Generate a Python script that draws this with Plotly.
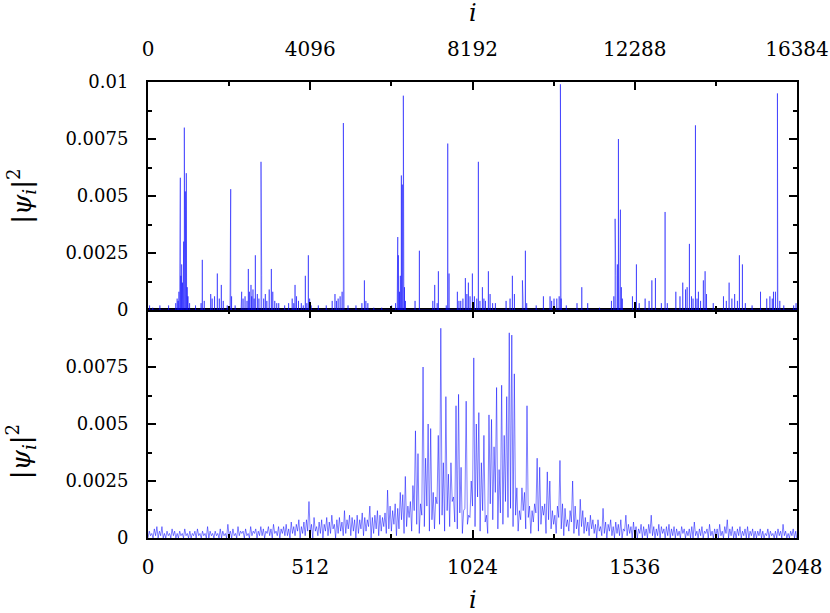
import plotly.graph_objects as go

# ---------------- data (values in units of 1e-4) ----------------
UNIT = 1e-4

# top panel: N = 16384, sparse spikes (index, height)
top_idx = [40, 120, 300, 520, 700, 736, 760, 780, 800, 816, 830, 850, 870, 880, 890, 900, 917, 925, 930, 942,
           950, 955, 967, 975, 990, 1000, 1010, 1050, 1200, 1340, 1371, 1420, 1583, 1620, 1680, 1750, 1800, 1851,
           1900, 2000, 2070, 2088, 2110, 2200, 2350, 2365, 2400, 2450, 2500, 2533, 2560, 2600, 2620, 2650, 2680,
           2710, 2760, 2800, 2853, 2870, 2920, 2962, 3000, 3060, 3114, 3150, 3200, 3250, 3300, 3450, 3550, 3640,
           3680, 3712, 3750, 3800, 3870, 3920, 3972, 4010, 4048, 4080, 4120, 4300, 4500, 4650, 4720, 4760, 4800,
           4850, 4900, 4932, 4950, 5050, 5250, 5400, 5463, 5500, 5550, 5700, 5900, 6150, 6250, 6290, 6305, 6320,
           6350, 6370, 6396, 6420, 6446, 6460, 6475, 6500, 6742, 6851, 7190, 7238, 7300, 7331, 7530, 7567, 7600,
           7810, 7850, 7895, 7950, 8012, 8050, 8088, 8130, 8189, 8240, 8300, 8340, 8380, 8442, 8480, 8520, 8593,
           8636, 8700, 8770, 9040, 9140, 9199, 9250, 9452, 9470, 9527, 9560, 9800, 9982, 10150, 10190, 10250,
           10320, 10380, 10411, 10430, 10560, 10830, 10951, 11100, 11400, 11700, 11760, 11792, 11810, 11850,
           11876, 11910, 11926, 11950, 11975, 12230, 12330, 12400, 12550, 12650, 12720, 12810, 12960, 13054,
           13110, 13325, 13430, 13500, 13570, 13610, 13668, 13720, 13760, 13820, 13860, 13895, 13950, 14020,
           14064, 14100, 14270, 14528, 14600, 14670, 14740, 14810, 14880, 14930, 15006, 15080, 15250, 15463,
           15620, 15700, 15760, 15790, 15840, 15890, 15900, 15950, 16050, 16300, 16360]
top_val = [2, 1, 2, 2, 3, 5, 4, 8, 12, 58, 15, 20, 12, 10, 9, 30, 80, 18, 25, 52,
           11, 15, 60, 9, 10, 6, 6, 3, 2, 3, 22, 4, 7, 5, 6, 16, 5, 11,
           4, 2, 5, 53, 6, 2, 4, 8, 5, 6, 4, 18, 8, 11, 6, 9, 5,
           24, 7, 5, 65, 15, 5, 7, 4, 9, 18, 8, 4, 3, 3, 2, 3, 5,
           3, 11, 6, 4, 3, 2, 15, 3, 24, 5, 2, 2, 2, 4, 7, 4, 5,
           6, 8, 82, 7, 2, 2, 3, 13, 4, 3, 1, 1, 2, 3, 8, 32, 24,
           8, 15, 59, 55, 94, 45, 10, 4, 4, 26, 4, 11, 3, 17, 2, 73, 16,
           8, 4, 4, 5, 14, 7, 12, 6, 16, 6, 5, 65, 4, 10, 5, 4, 17,
           7, 3, 3, 4, 5, 15, 7, 13, 4, 26, 3, 2, 6, 6, 4, 5,
           5, 6, 99, 5, 2, 3, 10, 3, 1, 4, 6, 40, 15, 20,
           75, 40, 44, 10, 5, 6, 20, 3, 5, 4, 13, 14, 3, 43,
           3, 8, 6, 12, 9, 10, 29, 6, 5, 81, 5, 8, 4, 13,
           17, 7, 3, 6, 4, 12, 5, 7, 4, 24, 20, 3, 2, 8,
           5, 6, 5, 8, 8, 95, 30, 4, 2, 2, 3]

# bottom panel: N = 2048; in each block of 8 sites, the highest and lowest level read
bottom_peaks = [
    3, 2, 4, 5, 3, 5, 2, 3, 2, 4, 3, 2, 3, 2, 4, 2, 3, 2, 3, 4, 2, 3, 2, 5, 3, 2, 3, 2, 4, 3, 2, 6,
    3, 4, 2, 5, 3, 3, 4, 2, 5, 3, 4, 3, 5, 4, 3, 5, 4, 6, 3, 5, 4, 5, 6, 4, 7, 5, 6, 8, 5, 7, 8, 16,
    6, 9, 5, 7, 8, 6, 9, 7, 10, 6, 8, 9, 7, 12, 8, 10,
    9, 8, 10, 8, 11, 9, 8, 14, 9, 10, 12, 10, 9, 11, 21, 14,
    12, 15, 13, 20, 19, 27, 14, 16, 23, 47, 37, 15, 75, 35, 50, 48,
    20, 18, 45, 92, 33, 62, 28, 33, 18, 58, 63, 31, 12, 60, 10, 25,
    79, 50, 55, 33, 45, 10, 54, 52, 40, 66, 30, 67, 45, 62, 90, 89,
    72, 22, 12, 22, 20, 58, 14, 12, 15, 35, 31, 14, 15, 29, 25, 12,
    10, 14, 34, 15, 13, 8, 12, 25, 14, 8, 17, 12, 9, 7, 10, 8,
    6, 8, 5, 13, 7, 6, 8, 5, 7, 6, 8, 4, 10, 6, 5, 7,
    5, 4, 6, 5, 4, 6, 10, 5, 4, 6, 5, 4, 5, 6, 4, 5,
    4, 3, 5, 4, 3, 4, 5, 7, 3, 4, 5, 3, 4, 6, 3, 4,
    4, 6, 3, 5, 8, 4, 5, 3, 4, 5, 3, 4, 5, 3, 4, 3,
    3, 4, 3, 2, 4, 3, 2, 3, 4, 3, 6, 3, 2, 3, 4, 3,
]
bottom_troughs = [
    0, 1, 0, 1, 0, 1, 0, 0, 1, 0, 1, 0, 0, 1, 0, 1, 0, 0, 1, 0, 1, 0, 1, 0, 0, 1, 0, 1, 0, 0, 1, 0,
    1, 0, 1, 0, 1, 2, 0, 1, 0, 1, 2, 0, 1, 1, 0, 2, 1, 0, 2, 1, 0, 2, 1, 1, 0, 2, 1, 3, 0, 2, 1, 3,
    2, 0, 3, 1, 2, 0, 3, 1, 2, 4, 0, 2, 3, 1, 2, 4,
    1, 3, 0, 2, 4, 1, 3, 5, 0, 2, 4, 1, 3, 5, 2, 4,
    3, 6, 1, 4, 8, 2, 5, 9, 3, 12, 6, 2, 10, 5, 14, 3,
    8, 4, 15, 6, 10, 3, 12, 5, 16, 7, 4, 11, 2, 13, 6, 9,
    14, 5, 18, 3, 12, 7, 2, 15, 8, 20, 4, 11, 6, 16, 9, 13,
    5, 10, 3, 8, 12, 4, 9, 2, 7, 11, 3, 6, 10, 2, 8, 4,
    6, 2, 9, 4, 1, 5, 3, 7, 2, 4, 1, 5, 2, 3, 1, 4,
    2, 0, 3, 1, 2, 0, 3, 1, 0, 2, 1, 0, 3, 1, 2, 0,
    1, 0, 2, 0, 1, 0, 2, 1, 0, 1, 0, 2, 0, 1, 0, 1,
    0, 1, 0, 2, 0, 1, 0, 0, 1, 0, 1, 0, 2, 0, 1, 0,
    1, 0, 1, 0, 2, 0, 1, 0, 0, 1, 0, 1, 0, 0, 1, 0,
    0, 1, 0, 0, 1, 0, 1, 0, 0, 1, 0, 1, 0, 0, 1, 0,
]
BLOCK = 8

top_ticks = [0, 4096, 8192, 12288, 16384]
top_text = ["0", "4096", "8192", "12288", "16384"]
bottom_ticks = [0, 512, 1024, 1536, 2048]
bottom_text = ["0", "512", "1024", "1536", "2048"]
y_ticks_top = [0, 0.0025, 0.005, 0.0075, 0.01]
y_text_top = ["0", "0.0025", "0.005", "0.0075", "0.01"]
y_ticks_bottom = [0, 0.0025, 0.005, 0.0075]
y_text_bottom = ["0", "0.0025", "0.005", "0.0075"]

# ---------------- build line traces ----------------
tx, ty = [0], [0.0]
for i, v in zip(top_idx, top_val):
    tx += [i - 1, i, i + 1]
    ty += [0.0, v * UNIT, 0.0]
tx.append(16383); ty.append(0.0)

bx, by = [], []
for k, (lo, hi) in enumerate(zip(bottom_troughs, bottom_peaks)):
    bx += [k * BLOCK, k * BLOCK + BLOCK // 2]
    by += [lo * UNIT, hi * UNIT]
bx.append(2047); by.append(0.0)

FONT = "DejaVu Serif"
BLUE = "rgb(0,0,255)"

fig = go.Figure()
fig.add_trace(go.Scatter(x=tx, y=ty, mode="lines", xaxis="x2", yaxis="y2",
                         line=dict(color=BLUE, width=0.5), showlegend=False, hoverinfo="skip"))
fig.add_trace(go.Scatter(x=bx, y=by, mode="lines", xaxis="x", yaxis="y",
                         line=dict(color=BLUE, width=0.5), showlegend=False, hoverinfo="skip"))

minor_style = dict(ticks="inside", ticklen=4, tickwidth=1.5, tickcolor="black")
common = dict(showline=True, linecolor="black", linewidth=2, mirror="allticks",
              ticks="inside", ticklen=8, tickwidth=1.5, tickcolor="black",
              showgrid=False, zeroline=False, automargin=False)
xfont = dict(family=FONT, size=20, color="black")
yfont = dict(family=FONT, size=18, color="black")

fig.update_layout(
    width=830, height=613,
    margin=dict(l=148, r=33, t=82, b=75, autoexpand=False),
    paper_bgcolor="white", plot_bgcolor="white",
    font=dict(family=FONT, color="black"),
    xaxis=dict(domain=[0, 1], anchor="y", range=[0, 2048], tickvals=bottom_ticks, ticktext=bottom_text,
               minor=dict(dtick=256, tick0=0, **minor_style), tickfont=xfont,
               ticklabelstandoff=10, **common),
    yaxis=dict(domain=[0, 0.5], anchor="x", range=[0, 0.01], tickvals=y_ticks_bottom, ticktext=y_text_bottom,
               minor=dict(dtick=0.00125, tick0=0, **minor_style), tickfont=yfont,
               ticklabelstandoff=14, **common),
    xaxis2=dict(domain=[0, 1], anchor="y2", side="top", range=[0, 16384], tickvals=top_ticks, ticktext=top_text,
                minor=dict(dtick=2048, tick0=0, **minor_style), tickfont=xfont,
                ticklabelstandoff=16, **common),
    yaxis2=dict(domain=[0.5, 1], anchor="x2", range=[0, 0.01], tickvals=y_ticks_top, ticktext=y_text_top,
                minor=dict(dtick=0.00125, tick0=0, **minor_style), tickfont=yfont,
                ticklabelstandoff=14, **common),
)

tfont = dict(family=FONT, size=24, color="black")
yt_font = dict(family=FONT, size=26, color="black")
fig.add_annotation(text="<i>i</i>", xref="paper", yref="paper", x=0.5, y=1.152,
                   showarrow=False, font=tfont, xanchor="center", yanchor="middle")
fig.add_annotation(text="<i>i</i>", xref="paper", yref="paper", x=0.5, y=-0.135,
                   showarrow=False, font=tfont, xanchor="center", yanchor="middle")
ylab = "|<i>ψ</i><sub><i>i</i></sub>|<sup>2</sup>"
fig.add_annotation(text=ylab, xref="paper", yref="paper", x=-0.196, y=0.75, textangle=-90,
                   showarrow=False, font=yt_font, xanchor="center", yanchor="middle")
fig.add_annotation(text=ylab, xref="paper", yref="paper", x=-0.196, y=0.19, textangle=-90,
                   showarrow=False, font=yt_font, xanchor="center", yanchor="middle")

# remove the browser's default 8 px page margin so the figure fills the window
fig.write_html("out.html", config={"displayModeBar": False},
               post_script="document.body.style.margin='0';")
